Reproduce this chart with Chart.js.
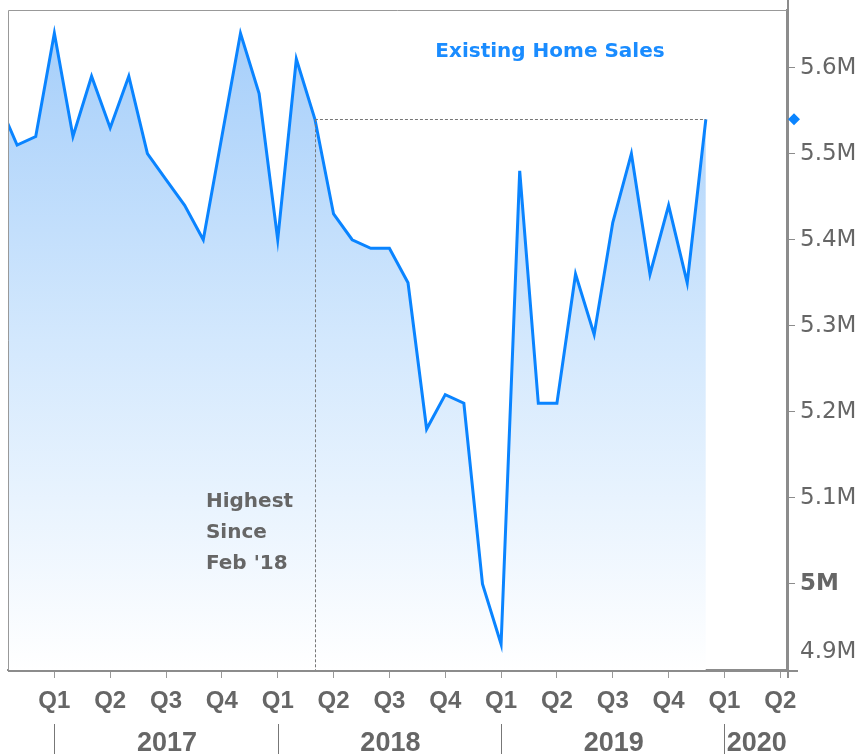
<!DOCTYPE html>
<html lang="en">
<head>
  <meta charset="UTF-8" />
  <title>Existing Home Sales</title>
  <script src="https://cdn.jsdelivr.net/npm/chart.js"></script>
  <style>
    body {
      margin: 0;
      background-color: #fff;
    }

    .chart-container {
      width: 864px;
      height: 754px;
    }
  </style>
</head>
<body>

  <div class="chart-container">
    <canvas id="salesChart"></canvas>
  </div>

  <script>
    // existing home sales, millions (SAAR), one value per month
    const months = [
      '2016-10', '2016-11', '2016-12',
      '2017-01', '2017-02', '2017-03', '2017-04', '2017-05', '2017-06',
      '2017-07', '2017-08', '2017-09', '2017-10', '2017-11', '2017-12',
      '2018-01', '2018-02', '2018-03', '2018-04', '2018-05', '2018-06',
      '2018-07', '2018-08', '2018-09', '2018-10', '2018-11', '2018-12',
      '2019-01', '2019-02', '2019-03', '2019-04', '2019-05', '2019-06',
      '2019-07', '2019-08', '2019-09', '2019-10', '2019-11', '2019-12'
    ];
    const sales = [
      5.56, 5.51, 5.52,
      5.64, 5.52, 5.59, 5.53, 5.59, 5.50,
      5.47, 5.44, 5.40, 5.52, 5.64, 5.57,
      5.40, 5.61, 5.54, 5.43, 5.40, 5.39,
      5.39, 5.35, 5.18, 5.22, 5.21, 5.00,
      4.93, 5.48, 5.21, 5.21, 5.36, 5.29,
      5.42, 5.50, 5.36, 5.44, 5.35, 5.54
    ];

    // x axis is in months counted from Jan 2017
    const quarterTicks = [0, 3, 6, 9, 12, 15, 18, 21, 24, 27, 30, 33, 36, 39];
    const quarterLabels = ['Q1', 'Q2', 'Q3', 'Q4'];
    const years = [2017, 2018, 2019, 2020];
    const yTicks = [4.9, 5.0, 5.1, 5.2, 5.3, 5.4, 5.5, 5.6];
    const noteLines = ['Highest', 'Since', "Feb '18"];
    const chartTitle = 'Existing Home Sales';

    const xMin = -2.49, xMax = 39.36;
    const yMin = 4.9, yMax = 5.667;

    const blue = '#0a84ff';
    const gray = '#666';
    const axisGray = '#8c8c8c';

    function monthIndex(s) {
      const [y, m] = s.split('-').map(Number);
      return (y - 2017) * 12 + (m - 1);
    }

    function yLabel(v) {
      if (Math.abs(v - 5) < 1e-9) return '5M';
      return v.toFixed(1) + 'M';
    }

    // last earlier month at or above the latest value
    function matchIndex() {
      const last = sales.length - 1;
      let k = last - 1;
      while (k > 0 && sales[k] < sales[last]) k--;
      return k;
    }

    function noPad(s) {
      s.paddingTop = 0;
      s.paddingBottom = 0;
      s.paddingLeft = 0;
      s.paddingRight = 0;
    }

    const decor = {
      id: 'decor',
      afterDatasetsDraw(chart) {
        const { ctx, chartArea: a, scales: { x, y } } = chart;
        const last = sales.length - 1;
        const k = matchIndex();
        const px = x.getPixelForValue(monthIndex(months[k]));
        const lx = x.getPixelForValue(monthIndex(months[last]));
        const py = y.getPixelForValue(sales[last]);
        ctx.save();
        ctx.strokeStyle = '#777';
        ctx.lineWidth = 1;
        ctx.setLineDash([3, 2]);
        ctx.beginPath();
        ctx.moveTo(px, Math.round(py) + 0.5);
        ctx.lineTo(lx, Math.round(py) + 0.5);
        ctx.moveTo(Math.round(px) + 0.5, py);
        ctx.lineTo(Math.round(px) + 0.5, a.bottom);
        ctx.stroke();
        ctx.restore();
      },
      afterDraw(chart) {
        const { ctx, chartArea: a, scales: { x, y } } = chart;
        ctx.save();

        // frame: left and top edges
        ctx.strokeStyle = '#999';
        ctx.lineWidth = 1;
        ctx.beginPath();
        ctx.moveTo(a.left + 0.5, a.bottom);
        ctx.lineTo(a.left + 0.5, a.top + 0.5);
        ctx.lineTo(a.right, a.top + 0.5);
        ctx.stroke();

        // axis lines drawn over the area fill
        ctx.strokeStyle = axisGray;
        ctx.lineWidth = 2;
        ctx.beginPath();
        ctx.moveTo(a.left, a.bottom + 1);
        ctx.lineTo(a.right + 11, a.bottom + 1);
        ctx.moveTo(a.right + 1, 0);
        ctx.lineTo(a.right + 1, a.bottom + 8);
        ctx.stroke();

        // year row with dividers
        ctx.strokeStyle = '#777';
        ctx.lineWidth = 1;
        ctx.fillStyle = gray;
        ctx.font = 'bold 27px "Liberation Sans"';
        ctx.textAlign = 'center';
        ctx.textBaseline = 'alphabetic';
        years.forEach(yr => {
          const s = (yr - 2017) * 12;
          const x0 = x.getPixelForValue(Math.max(s, xMin));
          const x1 = x.getPixelForValue(Math.min(s + 12, xMax));
          if (s >= xMin) {
            const dx = Math.round(x.getPixelForValue(s)) + 0.5;
            ctx.beginPath();
            ctx.moveTo(dx, a.bottom + 54);
            ctx.lineTo(dx, chart.height);
            ctx.stroke();
          }
          ctx.fillText(String(yr), (x0 + x1) / 2 + 1, a.bottom + 81);
        });

        // bottom y label sits above the axis line
        ctx.font = '23px "DejaVu Sans"';
        ctx.textAlign = 'left';
        ctx.textBaseline = 'middle';
        ctx.fillText(yLabel(yTicks[0]), a.right + 13,
          Math.min(y.getPixelForValue(yTicks[0]), a.bottom - 18));

        // marker for the latest value
        const last = sales.length - 1;
        const py = y.getPixelForValue(sales[last]);
        ctx.fillStyle = blue;
        ctx.beginPath();
        ctx.moveTo(a.right + 7, py - 6);
        ctx.lineTo(a.right + 13, py);
        ctx.lineTo(a.right + 7, py + 6);
        ctx.lineTo(a.right + 1, py);
        ctx.closePath();
        ctx.fill();

        // title
        ctx.fillStyle = '#1a8cff';
        ctx.font = 'bold 20px "DejaVu Sans"';
        ctx.textAlign = 'center';
        ctx.textBaseline = 'alphabetic';
        ctx.fillText(chartTitle, 550, a.top + 47);

        // note beside the dashed marker
        const px = x.getPixelForValue(monthIndex(months[matchIndex()]));
        ctx.fillStyle = gray;
        ctx.textAlign = 'left';
        noteLines.forEach((t, i) => {
          ctx.fillText(t, px - 109, a.bottom - 163 + i * 31);
        });

        ctx.restore();
      }
    };

    new Chart(document.getElementById('salesChart'), {
      type: 'line',
      data: {
        datasets: [{
          label: chartTitle,
          data: months.map((m, i) => ({ x: monthIndex(m), y: sales[i] })),
          borderColor: blue,
          borderWidth: 3,
          pointRadius: 0,
          tension: 0,
          fill: 'start',
          backgroundColor: (c) => {
            const area = c.chart.chartArea;
            if (!area) return 'rgba(166, 207, 250, 0.6)';
            const g = c.chart.ctx.createLinearGradient(0, area.top, 0, area.bottom);
            g.addColorStop(0, '#a3cdfa');
            g.addColorStop(0.5, '#d3e8fd');
            g.addColorStop(1, '#ffffff');
            return g;
          }
        }]
      },
      options: {
        responsive: true,
        maintainAspectRatio: false,
        animation: false,
        layout: { padding: { left: 8, top: 10 } },
        plugins: {
          legend: { display: false },
          tooltip: { enabled: false }
        },
        scales: {
          x: {
            type: 'linear',
            min: xMin,
            max: xMax,
            afterBuildTicks: (s) => { s.ticks = quarterTicks.map(v => ({ value: v })); },
            afterFit: (s) => { s.height = 84; noPad(s); },
            grid: { drawOnChartArea: false, tickLength: 8, color: '#999' },
            border: { color: axisGray, width: 2 },
            ticks: {
              autoSkip: false,
              maxRotation: 0,
              padding: 9,
              color: gray,
              font: { family: 'Liberation Sans', size: 24, weight: 'bold' },
              callback: (v) => quarterLabels[(v % 12) / 3]
            }
          },
          y: {
            position: 'right',
            min: yMin,
            max: yMax,
            afterBuildTicks: (s) => { s.ticks = yTicks.map(v => ({ value: v })); },
            afterFit: (s) => { s.width = 77; noPad(s); },
            grid: { drawOnChartArea: false, tickLength: 8, color: axisGray },
            border: { color: axisGray, width: 2 },
            ticks: {
              padding: 5,
              color: gray,
              font: (c) => ({
                family: 'DejaVu Sans',
                size: 23,
                weight: c.tick && Math.abs(c.tick.value - 5) < 1e-9 ? 'bold' : 'normal'
              }),
              callback: (v) => (v === yTicks[0] ? '' : yLabel(v))
            }
          }
        }
      },
      plugins: [decor]
    });
  </script>
</body>
</html>
